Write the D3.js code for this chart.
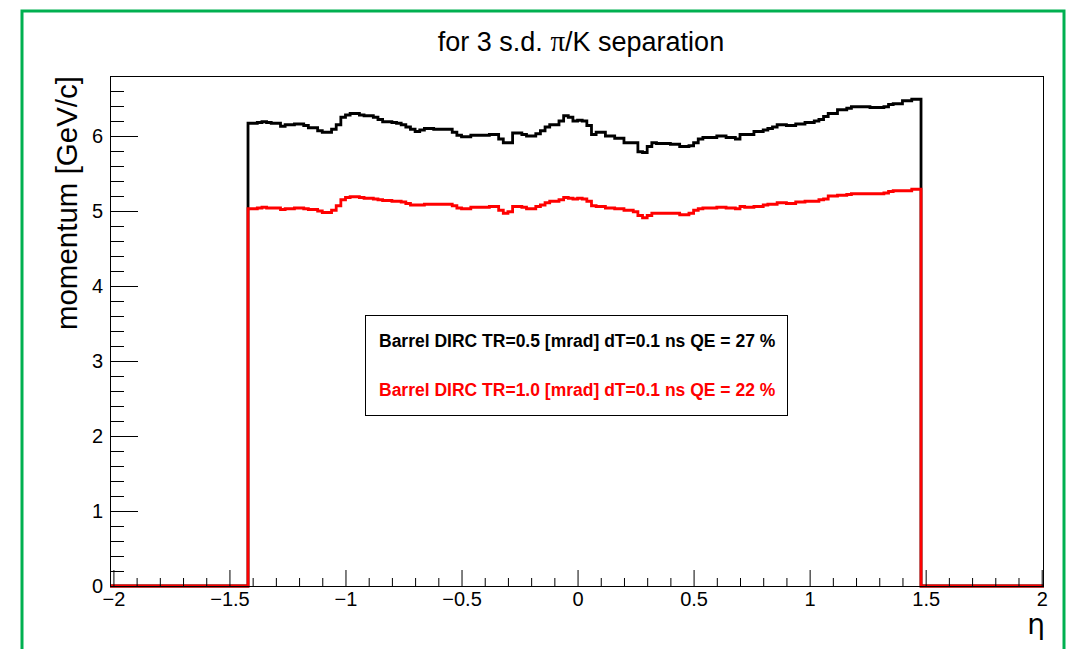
<!DOCTYPE html>
<html><head><meta charset="utf-8">
<script src="https://cdn.jsdelivr.net/npm/d3@7"></script>
<style>body{margin:0;background:#fff;} svg{display:block;}</style>
</head><body><svg id="c" width="1069" height="649"></svg>
<script>
// ---- data ----
const binStart = -1.42;
const binWidth = 0.02;
const blackValues = [6.17,6.17,6.18,6.19,6.18,6.17,6.17,6.13,6.15,6.15,6.16,6.16,6.14,6.11,6.11,6.07,6.05,6.05,6.09,6.15,
 6.25,6.28,6.30,6.30,6.28,6.27,6.27,6.25,6.22,6.19,6.19,6.18,6.17,6.15,6.12,6.09,6.06,6.08,6.10,6.10,
 6.09,6.09,6.09,6.09,6.05,6.01,5.99,5.99,6.01,6.01,6.01,6.01,6.02,6.02,5.96,5.91,5.91,6.04,6.04,6.02,
 6.00,6.00,6.03,6.07,6.12,6.15,6.15,6.20,6.27,6.25,6.20,6.21,6.20,6.14,6.02,6.05,6.05,6.00,6.00,5.97,
 5.97,5.91,5.91,5.91,5.79,5.78,5.86,5.91,5.90,5.90,5.90,5.89,5.89,5.86,5.86,5.87,5.91,5.96,5.98,5.98,
 5.98,6.00,6.00,5.98,5.98,5.96,6.02,6.02,6.02,6.06,6.06,6.08,6.10,6.12,6.15,6.15,6.14,6.14,6.16,6.16,
 6.18,6.18,6.20,6.22,6.26,6.30,6.30,6.35,6.35,6.37,6.39,6.39,6.39,6.39,6.38,6.38,6.38,6.39,6.42,6.43,
 6.43,6.47,6.47,6.49,6.49];
const redValues = [5.03,5.03,5.04,5.05,5.04,5.04,5.04,5.02,5.03,5.03,5.04,5.04,5.03,5.02,5.02,5.00,4.98,4.98,5.01,5.07,
 5.15,5.18,5.19,5.19,5.18,5.17,5.17,5.16,5.15,5.14,5.14,5.13,5.13,5.12,5.10,5.08,5.08,5.08,5.09,5.09,
 5.09,5.09,5.09,5.09,5.07,5.04,5.03,5.03,5.05,5.05,5.05,5.05,5.06,5.06,5.01,4.97,4.99,5.06,5.06,5.05,
 5.03,5.03,5.06,5.08,5.11,5.13,5.13,5.15,5.18,5.17,5.16,5.17,5.16,5.13,5.07,5.06,5.06,5.04,5.04,5.03,
 5.03,5.01,5.01,4.99,4.94,4.91,4.94,4.97,4.97,4.97,4.97,4.97,4.97,4.95,4.95,4.97,5.01,5.03,5.04,5.04,
 5.04,5.05,5.05,5.04,5.04,5.03,5.06,5.05,5.05,5.06,5.06,5.08,5.09,5.09,5.11,5.11,5.10,5.10,5.12,5.12,
 5.13,5.13,5.13,5.15,5.16,5.20,5.20,5.21,5.21,5.22,5.23,5.23,5.23,5.23,5.23,5.23,5.23,5.24,5.26,5.27,
 5.27,5.27,5.27,5.29,5.29];
const xTickValues = [-2,-1.5,-1,-0.5,0,0.5,1,1.5,2];
const xTickLabels = ["\u22122","\u22121.5","\u22121","\u22120.5","0","0.5","1","1.5","2"];
const yTickValues = [0,1,2,3,4,5,6];
const yTickLabels = ["0","1","2","3","4","5","6"];
const legendLabels = ["Barrel DIRC TR=0.5 [mrad] dT=0.1 ns QE = 27 %","Barrel DIRC TR=1.0 [mrad] dT=0.1 ns QE = 22 %"];
const seriesColors = ["#000000","#ff0000"];
const titleText = ["for 3 s.d. ","\u03c0","/K separation"];
const yTitle = "momentum [GeV/c]";
const xTitle = "\u03b7";

// ---- layout ----
const svg = d3.select("#c");
const F = "'Liberation Sans', Arial, Helvetica, sans-serif";
const L = 110, R = 1044, T = 76, B = 586;
const x = d3.scaleLinear().domain([-2.0147, 2.0099]).range([L, R]);
const y = d3.scaleLinear().domain([0, 6.8]).range([B, T]);

svg.append("rect").attr("width",1069).attr("height",649).attr("fill","#fff");
// green outer border
svg.append("rect").attr("x",22).attr("y",11).attr("width",1042).attr("height",700)
  .attr("fill","none").attr("stroke","#00b050").attr("stroke-width",3);

// title
const tt = svg.append("text").attr("x",581).attr("y",51).attr("text-anchor","middle")
  .attr("font-family",F).attr("font-size",27).attr("fill","#000");
tt.append("tspan").text(titleText[0]);
tt.append("tspan").attr("font-family","'Liberation Serif', serif").attr("font-size",29).text(titleText[1]);
tt.append("tspan").text(titleText[2]);

// histograms
function histPoints(vals){
  const pts = [[x.domain()[0],0],[binStart,0]];
  vals.forEach((v,i)=>{ const e0 = binStart+i*binWidth; pts.push([e0,v]); pts.push([e0+binWidth,v]); });
  const end = binStart + vals.length*binWidth;
  pts.push([end,0]); pts.push([x.domain()[1],0]);
  return pts;
}
const line = d3.line().x(d=>x(d[0])).y(d=>y(d[1]));
svg.append("path").attr("d",line(histPoints(blackValues))).attr("fill","none")
  .attr("stroke",seriesColors[0]).attr("stroke-width",2.8).attr("stroke-linejoin","miter");
svg.append("path").attr("d",line(histPoints(redValues))).attr("fill","none")
  .attr("stroke",seriesColors[1]).attr("stroke-width",2.8).attr("stroke-linejoin","miter");

// frame
svg.append("rect").attr("x",L+0.5).attr("y",T+0.5).attr("width",R-L-1).attr("height",B-T)
  .attr("fill","none").attr("stroke","#000").attr("stroke-width",1);

// x axis
const xMinor = d3.range(-20,21).map(i=>i/10).filter(v=>!xTickValues.includes(v));
const gxm = svg.append("g").attr("transform",`translate(0,${B})`)
  .call(d3.axisBottom(x).tickValues(xMinor).tickSizeInner(-8).tickSizeOuter(0).tickFormat(""));
const gx = svg.append("g").attr("transform",`translate(0,${B})`)
  .call(d3.axisBottom(x).tickValues(xTickValues).tickSizeInner(-16).tickSizeOuter(0).tickPadding(6)
    .tickFormat((d,i)=>xTickLabels[i]));
[gxm,gx].forEach(g=>{ g.select(".domain").remove(); g.selectAll("line").attr("stroke","#000"); });
gx.selectAll("text").attr("font-family",F).attr("font-size",20).attr("fill","#000");

// y axis
const yMinor = d3.range(0,35).map(i=>i/5).filter(v=>v<=6.8 && !yTickValues.includes(v));
const gym = svg.append("g").attr("transform",`translate(${L},0)`)
  .call(d3.axisLeft(y).tickValues(yMinor).tickSizeInner(-14).tickSizeOuter(0).tickFormat(""));
const gy = svg.append("g").attr("transform",`translate(${L},0)`)
  .call(d3.axisLeft(y).tickValues(yTickValues).tickSizeInner(-28).tickSizeOuter(0).tickPadding(7)
    .tickFormat((d,i)=>yTickLabels[i]));
[gym,gy].forEach(g=>{ g.select(".domain").remove(); g.selectAll("line").attr("stroke","#000"); });
gy.selectAll("text").attr("font-family",F).attr("font-size",20).attr("fill","#000");

// axis titles
svg.append("text").attr("transform",`translate(77,${T}) rotate(-90)`).attr("text-anchor","end")
  .attr("font-family",F).attr("font-size",29.5).attr("fill","#000").text(yTitle);
svg.append("text").attr("x",R+1).attr("y",634).attr("text-anchor","end")
  .attr("font-family","'DejaVu Sans', sans-serif").attr("font-size",28).attr("fill","#000").text(xTitle);

// legend
svg.append("rect").attr("x",365.5).attr("y",315.5).attr("width",422).attr("height",100)
  .attr("fill","#fff").attr("stroke","#000").attr("stroke-width",1);
legendLabels.forEach((t,i)=>{
  svg.append("text").attr("x",379).attr("y",347+i*48.5).attr("font-family",F)
    .attr("font-weight","bold").attr("font-size",17.5).attr("fill",seriesColors[i]).text(t);
});
</script></body></html>
